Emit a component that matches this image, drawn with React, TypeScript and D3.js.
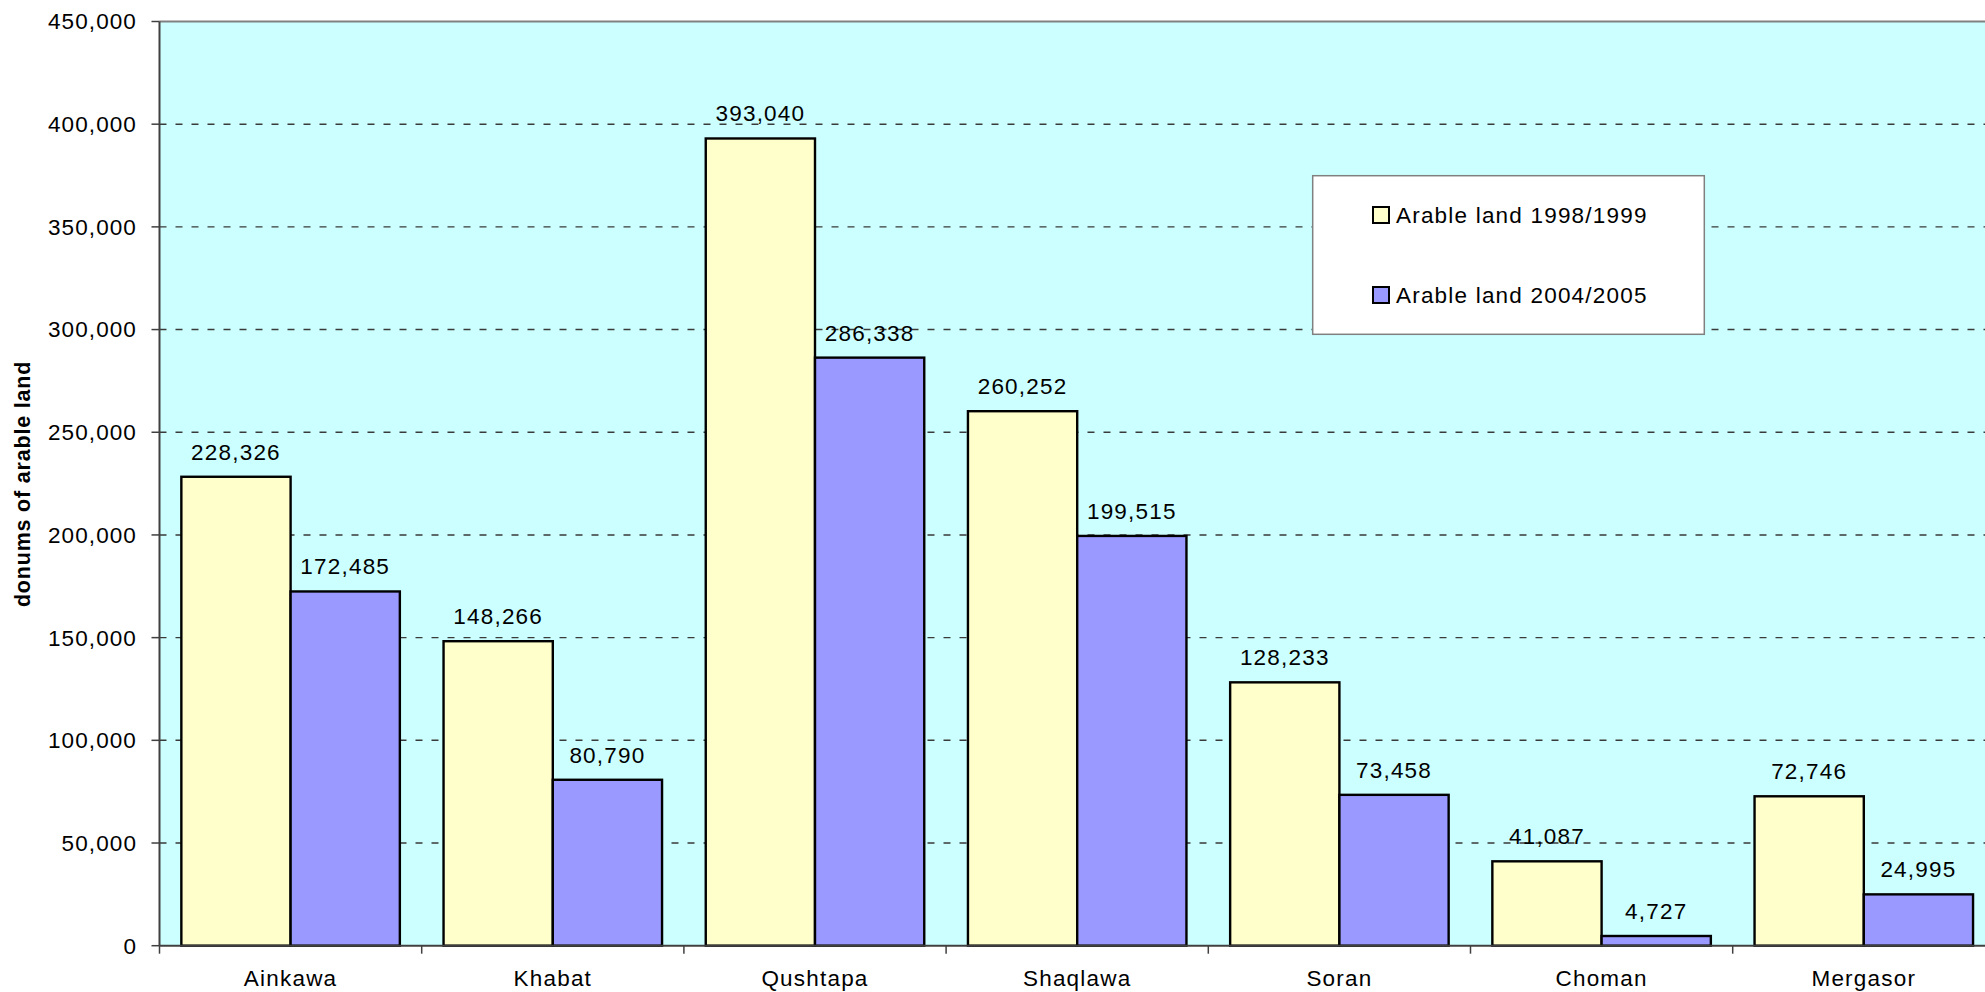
import { useEffect, useRef } from 'react'
import * as d3 from 'd3'

const districts = ['Ainkawa', 'Khabat', 'Qushtapa', 'Shaqlawa', 'Soran', 'Choman', 'Mergasor']
const arable1998 = [228326, 148266, 393040, 260252, 128233, 41087, 72746]
const arable2004 = [172485, 80790, 286338, 199515, 73458, 4727, 24995]
const seriesNames = ['Arable land 1998/1999', 'Arable land 2004/2005']
const seriesColors = ['#FFFFCC', '#9999FF']
const yTicks = [0, 50000, 100000, 150000, 200000, 250000, 300000, 350000, 400000, 450000]

const W = 1985
const H = 992
const FONT = '"Liberation Sans", Arial, sans-serif'

export default function App() {
  const svgRef = useRef<SVGSVGElement>(null)

  useEffect(() => {
    if (!svgRef.current) return
    const svg = d3.select(svgRef.current)
    svg.selectAll('*').remove()

    const left = 159.5
    const top = 21.5
    const bottom = 945.7
    const step = 262.2

    const x = d3.scaleBand<string>()
      .domain(districts)
      .range([left, left + step * districts.length])
    const xs = d3.scaleBand<string>()
      .domain(seriesNames)
      .range([0, x.bandwidth()])
      .paddingOuter(0.2)
    const y = d3.scaleLinear().domain([0, 450000]).range([bottom, top])

    // plot background
    svg.append('rect')
      .attr('x', left).attr('y', top)
      .attr('width', W - left + 20).attr('height', bottom - top)
      .attr('fill', '#CCFFFF')

    // grid
    svg.append('g')
      .selectAll('line')
      .data(yTicks.filter(t => t > 0 && t < 450000))
      .enter().append('line')
      .attr('x1', left).attr('x2', W)
      .attr('y1', d => y(d)).attr('y2', d => y(d))
      .attr('stroke', '#3a3a3a')
      .attr('stroke-width', 1.4)
      .attr('stroke-dasharray', '7,9')

    // top border
    svg.append('line')
      .attr('x1', left).attr('x2', W)
      .attr('y1', top).attr('y2', top)
      .attr('stroke', '#808080').attr('stroke-width', 2)

    // bars
    const rows = districts.map((d, i) => ({ d, vals: [arable1998[i], arable2004[i]] }))
    const groups = svg.append('g').selectAll('g')
      .data(rows)
      .enter().append('g')
      .attr('transform', r => `translate(${x(r.d)},0)`)

    groups.selectAll('rect')
      .data(r => r.vals.map((v, k) => ({ v, k })))
      .enter().append('rect')
      .attr('x', b => xs(seriesNames[b.k])!)
      .attr('width', xs.bandwidth())
      .attr('y', b => y(b.v))
      .attr('height', b => bottom - y(b.v))
      .attr('fill', b => seriesColors[b.k])
      .attr('stroke', '#000')
      .attr('stroke-width', 2.4)

    groups.selectAll('text')
      .data(r => r.vals.map((v, k) => ({ v, k })))
      .enter().append('text')
      .attr('x', b => xs(seriesNames[b.k])! + xs.bandwidth() / 2)
      .attr('y', b => y(b.v) - 17)
      .attr('text-anchor', 'middle')
      .attr('font-family', FONT)
      .attr('font-size', 22.5)
      .attr('letter-spacing', 1.2)
      .attr('fill', '#000')
      .text(b => d3.format(',')(b.v))

    // y axis
    const yAxis = svg.append('g')
    yAxis.append('line')
      .attr('x1', left).attr('x2', left)
      .attr('y1', top).attr('y2', bottom)
      .attr('stroke', '#404040').attr('stroke-width', 2)
    yAxis.selectAll('.tick')
      .data(yTicks)
      .enter().append('line')
      .attr('x1', left - 8).attr('x2', left)
      .attr('y1', d => y(d)).attr('y2', d => y(d))
      .attr('stroke', '#404040').attr('stroke-width', 1.5)
    yAxis.selectAll('text')
      .data(yTicks)
      .enter().append('text')
      .attr('x', 137)
      .attr('y', d => y(d))
      .attr('dy', '0.35em')
      .attr('text-anchor', 'end')
      .attr('font-family', FONT)
      .attr('font-size', 22.5)
      .attr('letter-spacing', 1.1)
      .attr('fill', '#000')
      .text(d => d3.format(',')(d))

    svg.append('text')
      .attr('transform', `translate(22,484) rotate(-90)`)
      .attr('dy', '0.35em')
      .attr('text-anchor', 'middle')
      .attr('font-family', FONT)
      .attr('font-size', 21.5)
      .attr('font-weight', 'bold')
      .attr('letter-spacing', 0.8)
      .text('donums of arable land')

    // x axis
    const xAxis = svg.append('g')
    xAxis.append('line')
      .attr('x1', left).attr('x2', W)
      .attr('y1', bottom).attr('y2', bottom)
      .attr('stroke', '#404040').attr('stroke-width', 2)
    xAxis.selectAll('.tick')
      .data(d3.range(districts.length + 1))
      .enter().append('line')
      .attr('x1', i => left + i * x.step()).attr('x2', i => left + i * x.step())
      .attr('y1', bottom).attr('y2', bottom + 8)
      .attr('stroke', '#404040').attr('stroke-width', 1.5)
    xAxis.selectAll('text')
      .data(districts)
      .enter().append('text')
      .attr('x', d => x(d)! + x.bandwidth() / 2)
      .attr('y', 986)
      .attr('text-anchor', 'middle')
      .attr('font-family', FONT)
      .attr('font-size', 22.5)
      .attr('letter-spacing', 1.2)
      .attr('fill', '#000')
      .text(d => d)

    // legend
    const lg = svg.append('g')
    lg.append('rect')
      .attr('x', 1312.7).attr('y', 175.7)
      .attr('width', 391.6).attr('height', 158.6)
      .attr('fill', '#fff')
      .attr('stroke', '#808080').attr('stroke-width', 1.5)
    const items = lg.selectAll('g')
      .data(seriesNames)
      .enter().append('g')
      .attr('transform', (_, i) => `translate(1373,${i === 0 ? 215 : 295})`)
    items.append('rect')
      .attr('x', 0).attr('y', -8)
      .attr('width', 16).attr('height', 16)
      .attr('fill', (_, i) => seriesColors[i])
      .attr('stroke', '#000').attr('stroke-width', 2)
    items.append('text')
      .attr('x', 23)
      .attr('dy', '0.35em')
      .attr('font-family', FONT)
      .attr('font-size', 22.5)
      .attr('letter-spacing', 1.2)
      .attr('fill', '#000')
      .text(d => d)
  }, [])

  return (
    <svg
      ref={svgRef}
      width={W}
      height={H}
      style={{ position: 'absolute', left: 0, top: 0, background: '#fff' }}
    />
  )
}
